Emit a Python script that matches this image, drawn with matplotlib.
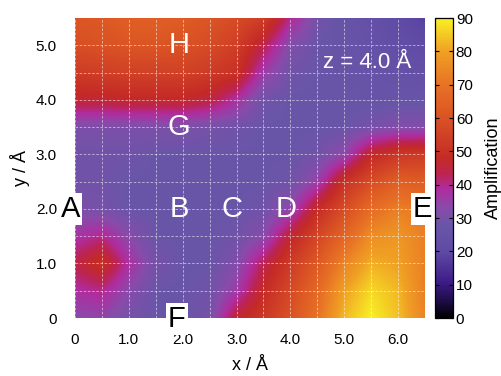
import numpy as np
import matplotlib

matplotlib.use("Agg")
import matplotlib.pyplot as plt
from matplotlib.colors import LinearSegmentedColormap

plt.rcParams["font.family"] = ["Liberation Sans", "DejaVu Sans"]

# grid nodes (Å) of the amplification map
x_nodes = [0.0, 0.5, 1.0, 1.5, 2.0, 2.5, 3.0, 3.5, 4.0, 4.5, 5.0, 5.5, 6.0, 6.5]
y_nodes = [0.0, 0.5, 1.0, 1.5, 2.0, 2.5, 3.0, 3.5, 4.0, 4.5, 5.0, 5.5]

# rows listed from top (y = 5.5) to bottom (y = 0)
row_y55 = [61, 62, 64, 64, 63, 61, 58, 54, 40, 30, 26, 24, 21, 18]
row_y50 = [59, 60, 61, 61, 60, 58, 54, 44, 32, 28, 27, 25, 23, 21]
row_y45 = [53, 54, 55, 55, 55, 53, 50, 36, 29, 28, 27, 26, 25, 24]
row_y40 = [46, 46, 47, 47, 47, 45, 38, 29, 28, 28, 28, 27, 27, 27]
row_y35 = [31, 31, 31, 31, 31, 30, 29, 28, 28, 28, 28, 30, 32, 32]
row_y30 = [29, 29, 29, 28, 28, 28, 28, 28, 28, 29, 34, 47, 52, 53]
row_y25 = [29, 29, 28, 28, 28, 28, 28, 28, 29, 35, 50, 58, 64, 63]
row_y20 = [31, 30, 28, 28, 28, 28, 28, 29, 34, 48, 58, 68, 73, 71]
row_y15 = [37, 40, 33, 28, 28, 28, 29, 33, 46, 56, 66, 76, 78, 73]
row_y10 = [44, 50, 38, 30, 28, 28, 32, 43, 53, 62, 74, 82, 80, 73]
row_y05 = [38, 40, 33, 28, 28, 29, 36, 48, 57, 67, 80, 87, 83, 73]
row_y00 = [33, 34, 30, 28, 28, 30, 46, 52, 60, 70, 83, 90, 84, 74]

x_ticks = [0, 1, 2, 3, 4, 5, 6]
x_ticklabels = ["0", "1.0", "2.0", "3.0", "4.0", "5.0", "6.0"]
y_ticks = [0, 1, 2, 3, 4, 5]
y_ticklabels = ["0", "1.0", "2.0", "3.0", "4.0", "5.0"]
cbar_ticks = [0, 10, 20, 30, 40, 50, 60, 70, 80, 90]

site_names = ["H", "G", "B", "C", "D"]
site_x = [1.93, 1.93, 1.93, 2.92, 3.93]
site_y = [5.0, 3.5, 2.0, 2.0, 2.0]
edge_names = ["A", "E", "F"]
edge_x = [-0.09, 6.46, 1.89]
edge_y = [2.0, 2.0, -0.02]

palette = LinearSegmentedColormap.from_list("amp", [
    (0.00, "#000000"),
    (0.06, "#200e4c"),
    (0.12, "#3e1c88"),
    (0.22, "#5e4aa4"),
    (0.31, "#6a56a8"),
    (0.37, "#8a4aaa"),
    (0.43, "#b02c9e"),
    (0.48, "#bc2452"),
    (0.53, "#c42a26"),
    (0.62, "#d24426"),
    (0.70, "#df5c24"),
    (0.78, "#e87226"),
    (0.89, "#f0a024"),
    (1.00, "#f8f024"),
])

amp = np.array([row_y55, row_y50, row_y45, row_y40, row_y35, row_y30,
                row_y25, row_y20, row_y15, row_y10, row_y05, row_y00], dtype=float)

fig = plt.figure(figsize=(5.02, 3.76), dpi=100)
ax = fig.add_axes([75 / 502, 58 / 376, 350 / 502, 300 / 376])
cax = fig.add_axes([435 / 502, 58 / 376, 18 / 502, 300 / 376])

half = 0.25
im = ax.imshow(amp, cmap=palette, vmin=0, vmax=90, interpolation="bilinear",
               extent=(x_nodes[0] - half, x_nodes[-1] + half, y_nodes[0] - half, y_nodes[-1] + half),
               aspect="auto", origin="upper")
ax.set_xlim(x_nodes[0], x_nodes[-1])
ax.set_ylim(y_nodes[0], y_nodes[-1])

ax.set_xticks(x_ticks, x_ticklabels)
ax.set_yticks(y_ticks, y_ticklabels)
ax.set_xticks(np.arange(0.5, 6.5, 1.0), minor=True)
ax.set_yticks(np.arange(0.5, 5.5, 1.0), minor=True)
ax.tick_params(which="both", length=0, labelsize=11)
ax.tick_params(axis="x", pad=11)
ax.tick_params(axis="y", pad=13)
ax.grid(True, which="both", color="white", linestyle=(0, (3, 2)), linewidth=0.6, alpha=0.6)
for s in ax.spines.values():
    s.set_visible(False)
ax.set_xlabel("x / Å", fontsize=13, labelpad=7)
ax.set_ylabel("y / Å", fontsize=13, labelpad=4)

for name, x, y in zip(site_names, site_x, site_y):
    ax.text(x, y, name, color="white", fontsize=21, ha="center", va="center")
for name, x, y in zip(edge_names, edge_x, edge_y):
    ax.text(x, y, name, color="black", fontsize=21, ha="center", va="center", clip_on=False,
            bbox=dict(boxstyle="square,pad=0.08", fc="white", ec="none"))
ax.text(5.43, 4.68, "z = 4.0 Å", color="white", fontsize=16, ha="center", va="center")

cb = fig.colorbar(im, cax=cax, ticks=cbar_ticks)
cb.outline.set_linewidth(0.9)
cax.tick_params(axis="y", direction="in", left=True, right=True, length=3, width=0.8,
                labelsize=11, pad=2)
cb.set_label("Amplification", fontsize=13, labelpad=9)

fig.savefig("out.png", dpi=100)
